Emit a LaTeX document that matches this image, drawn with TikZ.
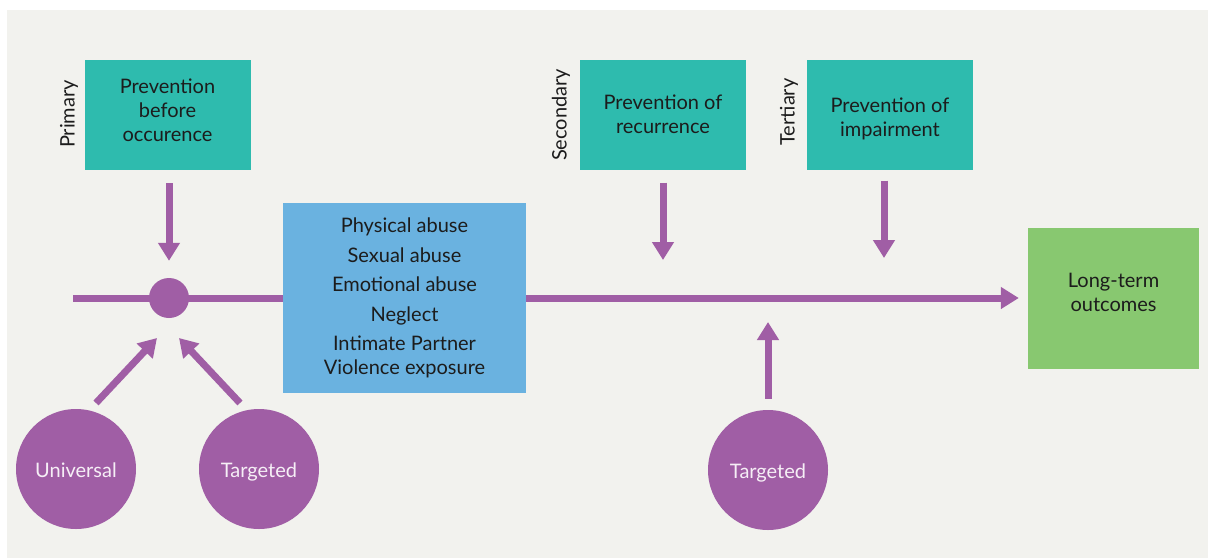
\documentclass[tikz,border=0pt]{standalone}
\usepackage{fontspec}
\setmainfont{Lato}
\usetikzlibrary{arrows.meta}
\definecolor{panel}{HTML}{F2F2EE}
\definecolor{plum}{HTML}{A05EA5}
\definecolor{tealbox}{HTML}{2EBBAE}
\definecolor{bluebox}{HTML}{6AB2E0}
\definecolor{greenbox}{HTML}{88C870}
\definecolor{ink}{HTML}{1C1C1C}
\begin{document}
\begin{tikzpicture}[x=1pt,y=-1pt,
  font=\fontsize{20}{24}\selectfont,
  prevbox/.style={fill=tealbox, minimum width=166pt, minimum height=110pt,
    inner sep=0pt, align=center, text=ink},
  levellabel/.style={rotate=90, text=ink, inner sep=0pt},
  groupcircle/.style={circle, fill=plum, minimum size=120pt, inner sep=0pt,
    text=white!90!plum, text height=20pt, text depth=4pt},
  flow/.style={draw=plum, line width=7pt},
  arr/.style={flow, -{Triangle[width=21pt,length=18pt]}}]

% canvas and backdrop
\useasboundingbox (0,0) rectangle (1208,558);
\fill[panel] (7,10) rectangle (1208,558);

% prevention levels
\node[prevbox] (prim) at (167.5,115) {Prevention\\before\\occurence\\[-14pt]\mbox{}};
\node[levellabel] (lprim) at (69,114) {Primary};
\node[prevbox] (sec) at (663,114.5) {Prevention of\\recurrence};
\node[levellabel] (lsec) at (561,115) {Secondary};
\node[prevbox] (ter) at (890,114.5) {\strut\\[-18pt]Prevention of\\impairment};
\node[levellabel] (lter) at (789,112) {Tertiary};

% forms of maltreatment
\node[fill=bluebox, minimum width=243pt, minimum height=190pt, inner sep=0pt,
  align=center, text=ink] (abuse) at (404.5,298)
  {Physical abuse\\[5.5pt]Sexual abuse\\[5.5pt]Emotional abuse\\[5.5pt]Neglect\\[5.5pt]Intimate Partner\\Violence exposure};

% outcomes
\node[fill=greenbox, minimum width=171pt, minimum height=141pt, inner sep=0pt,
  align=center, text=ink] (out) at (1113.5,298) {Long-term\\outcomes\\[-12pt]\mbox{}};

% target groups
\node[groupcircle] (uni) at (76,469) {Universal};
\node[groupcircle] (tg1) at (259,469) {Targeted};
\node[groupcircle] (tg2) at (768,470) {Targeted};

% timeline
\coordinate (lstart) at (73,298);
\draw[flow] (lstart) -- (abuse.west);
\node[circle, fill=plum, minimum size=40pt, inner sep=0pt] (hub) at (169,298) {};
\draw[arr, shorten >=9pt] (abuse.east) -- (out.west);

% prevention arrows
\draw[arr, shorten <=13pt, shorten >=17pt] (prim.south -| hub) -- (hub.north);
\coordinate (stip) at (663,260);
\draw[arr, shorten <=13pt] (sec.south -| stip) -- (stip);
\coordinate (ttip) at (884,258);
\draw[arr, shorten <=11pt] (ter.south -| ttip) -- (ttip);

% group arrows
\coordinate (ua) at (96,403);
\coordinate (ub) at (157,338);
\draw[arr] (ua) -- (ub);
\coordinate (ta) at (240,403);
\coordinate (tb) at (179,338);
\draw[arr] (ta) -- (tb);
\coordinate (utip) at (768,322);
\draw[arr, shorten <=11pt] (tg2.north) -- (utip);
\end{tikzpicture}
\end{document}
